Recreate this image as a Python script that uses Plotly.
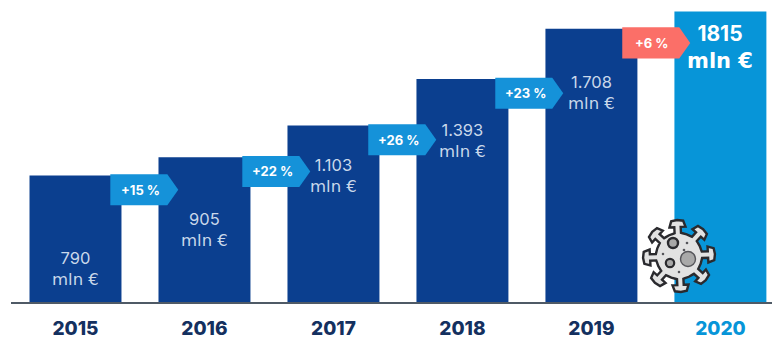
import math
import plotly.graph_objects as go

years = ["2015", "2016", "2017", "2018", "2019", "2020"]
revenue = [790, 905, 1103, 1393, 1708, 1815]
value_labels = ["790", "905", "1.103", "1.393", "1.708", "1815"]
growth_labels = ["+15 %", "+22 %", "+26 %", "+23 %", "+6 %"]
label_drop_px = [93, 72, 50, 61, 64, 35]
badge_nudge_px = [0, 3, 0, -2, -4]

NAVY = "#0b3f8f"
SKY = "#0795d8"
BADGE = "#1592d9"
CORAL = "#fb6f68"
AXIS_LINE = "#4f5a66"
SOFT_TEXT = "#c9d8ea"
FONT = "Inter"
UNIT_FONT = "DejaVu Sans"

W, H = 782, 340
LEFT, RIGHT, TOP, BOTTOM = 11, 10, 0, 38
PLOT_H = H - TOP - BOTTOM
PLOT_W = W - LEFT - RIGHT
Y_MAX = 1887
PX_PER_CATEGORY = 129

fig = go.Figure(
    go.Bar(
        x=list(range(len(years))),
        y=revenue,
        width=0.713,
        marker=dict(color=[NAVY] * 5 + [SKY], line=dict(width=0)),
        hoverinfo="skip",
    )
)

shapes = []
annotations = []

# Growth arrows sit on the top edge of the earlier year's bar.
badge_left, badge_body, badge_tip = 0.27, 0.712, 0.797
badge_h = 194
for i, text in enumerate(growth_labels):
    top = revenue[i] + 8
    shift = badge_nudge_px[i] / PX_PER_CATEGORY
    x0, x1, x2 = i + badge_left + shift, i + badge_body + shift, i + badge_tip + shift
    fill = CORAL if i == len(growth_labels) - 1 else BADGE
    shapes.append(dict(
        type="path", xref="x", yref="y", layer="above",
        path=f"M{x0},{top} L{x1},{top} L{x2},{top - badge_h / 2} "
             f"L{x1},{top - badge_h} L{x0},{top - badge_h} Z",
        fillcolor=fill, line=dict(width=0),
    ))
    annotations.append(dict(
        x=(x0 + x1) / 2 + 0.012, y=top - badge_h / 2, xref="x", yref="y",
        text=text, showarrow=False, yanchor="middle",
        font=dict(family=FONT, size=13, color="white", weight=700),
    ))

# Two-line value captions inside each bar.
for i, text in enumerate(value_labels):
    last = i == len(value_labels) - 1
    unit_size = 21 if last else 16.5
    annotations.append(dict(
        x=i, y=revenue[i], xref="x", yref="y", yshift=-label_drop_px[i],
        text=f"{text}<br><span style='font-family:{UNIT_FONT};font-size:{unit_size}px'>mln €</span>",
        showarrow=False, yanchor="middle",
        font=dict(
            family=FONT,
            size=21 if last else 16.5,
            color="white" if last else SOFT_TEXT,
            weight=700 if last else 400,
        ),
    ))


def to_paper(px, py):
    return (px - LEFT) / PLOT_W, 1 - (py - TOP) / PLOT_H


def icon_path(points):
    coords = [to_paper(*p) for p in points]
    return "M" + " L".join(f"{a:.5f},{b:.5f}" for a, b in coords) + " Z"


def circle(cx, cy, r, fill, edge=None, edge_w=0):
    x0, y1 = to_paper(cx - r, cy - r)
    x1, y0 = to_paper(cx + r, cy + r)
    return dict(
        type="circle", xref="paper", yref="paper", layer="above",
        x0=x0, x1=x1, y0=y0, y1=y1, fillcolor=fill,
        line=dict(color=edge or fill, width=edge_w),
    )


# Virus pictogram: one spiked outline, with craters on top.
CX, CY = 679, 256
INK = "#2a2a2e"
GREY = "#e2e2e2"
BODY_R, STEM_W, CAP_IN, CAP_OUT, CAP_W = 23, 3.2, 29, 35, 8

outline = []
for k in range(8):
    a = math.radians(k * 45 - 90 - 3)
    ux, uy = math.cos(a), math.sin(a)
    nx, ny = -uy, ux
    for along, across in (
        (BODY_R, -STEM_W), (CAP_IN, -STEM_W), (CAP_IN, -CAP_W),
        (CAP_OUT, -CAP_W + 2), (CAP_OUT + 1, 0), (CAP_OUT, CAP_W - 2),
        (CAP_IN, CAP_W), (CAP_IN, STEM_W), (BODY_R, STEM_W),
    ):
        outline.append((CX + ux * along + nx * across, CY + uy * along + ny * across))
    # Short arc of body edge up to the next spike.
    for step in (12, 22.5, 33):
        b = a + math.radians(step)
        outline.append((CX + math.cos(b) * BODY_R, CY + math.sin(b) * BODY_R))

shapes.append(dict(
    type="path", xref="paper", yref="paper", layer="above",
    path=icon_path(outline), fillcolor=GREY, line=dict(color=INK, width=2.4),
))
shapes.append(circle(CX - 6, CY - 13, 5, "#a8a8a8", INK, 2.4))
shapes.append(circle(CX - 9, CY + 7, 4.2, "#a8a8a8", INK, 2.2))
shapes.append(circle(CX + 9, CY + 3, 7.5, "#a9a9a9", "#55555a", 1.4))
for dx, dy in ((-16, -2), (8, -13), (0, 16), (5, -6)):
    shapes.append(circle(CX + dx, CY + dy, 1.3, "#55555a"))

fig.update_layout(
    width=W,
    height=H,
    margin=dict(l=LEFT, r=RIGHT, t=TOP, b=BOTTOM, autoexpand=False),
    paper_bgcolor="white",
    plot_bgcolor="white",
    showlegend=False,
    shapes=shapes,
    annotations=annotations,
    xaxis=dict(
        range=[-0.5, 5.4],
        tickmode="array",
        tickvals=list(range(len(years))),
        ticktext=[f"<span style='color:{SKY}'>{y}</span>" if y == "2020" else y for y in years],
        tickfont=dict(family=FONT, size=19, color="#14305f", weight=800),
        showgrid=False,
        zeroline=False,
        showline=True,
        linecolor=AXIS_LINE,
        linewidth=2,
        ticks="",
        ticklen=0,
        ticklabelstandoff=8,
    ),
    yaxis=dict(range=[0, Y_MAX], visible=False, showgrid=False, zeroline=False),
)

fig.write_html("out.html", config={"displayModeBar": False})
